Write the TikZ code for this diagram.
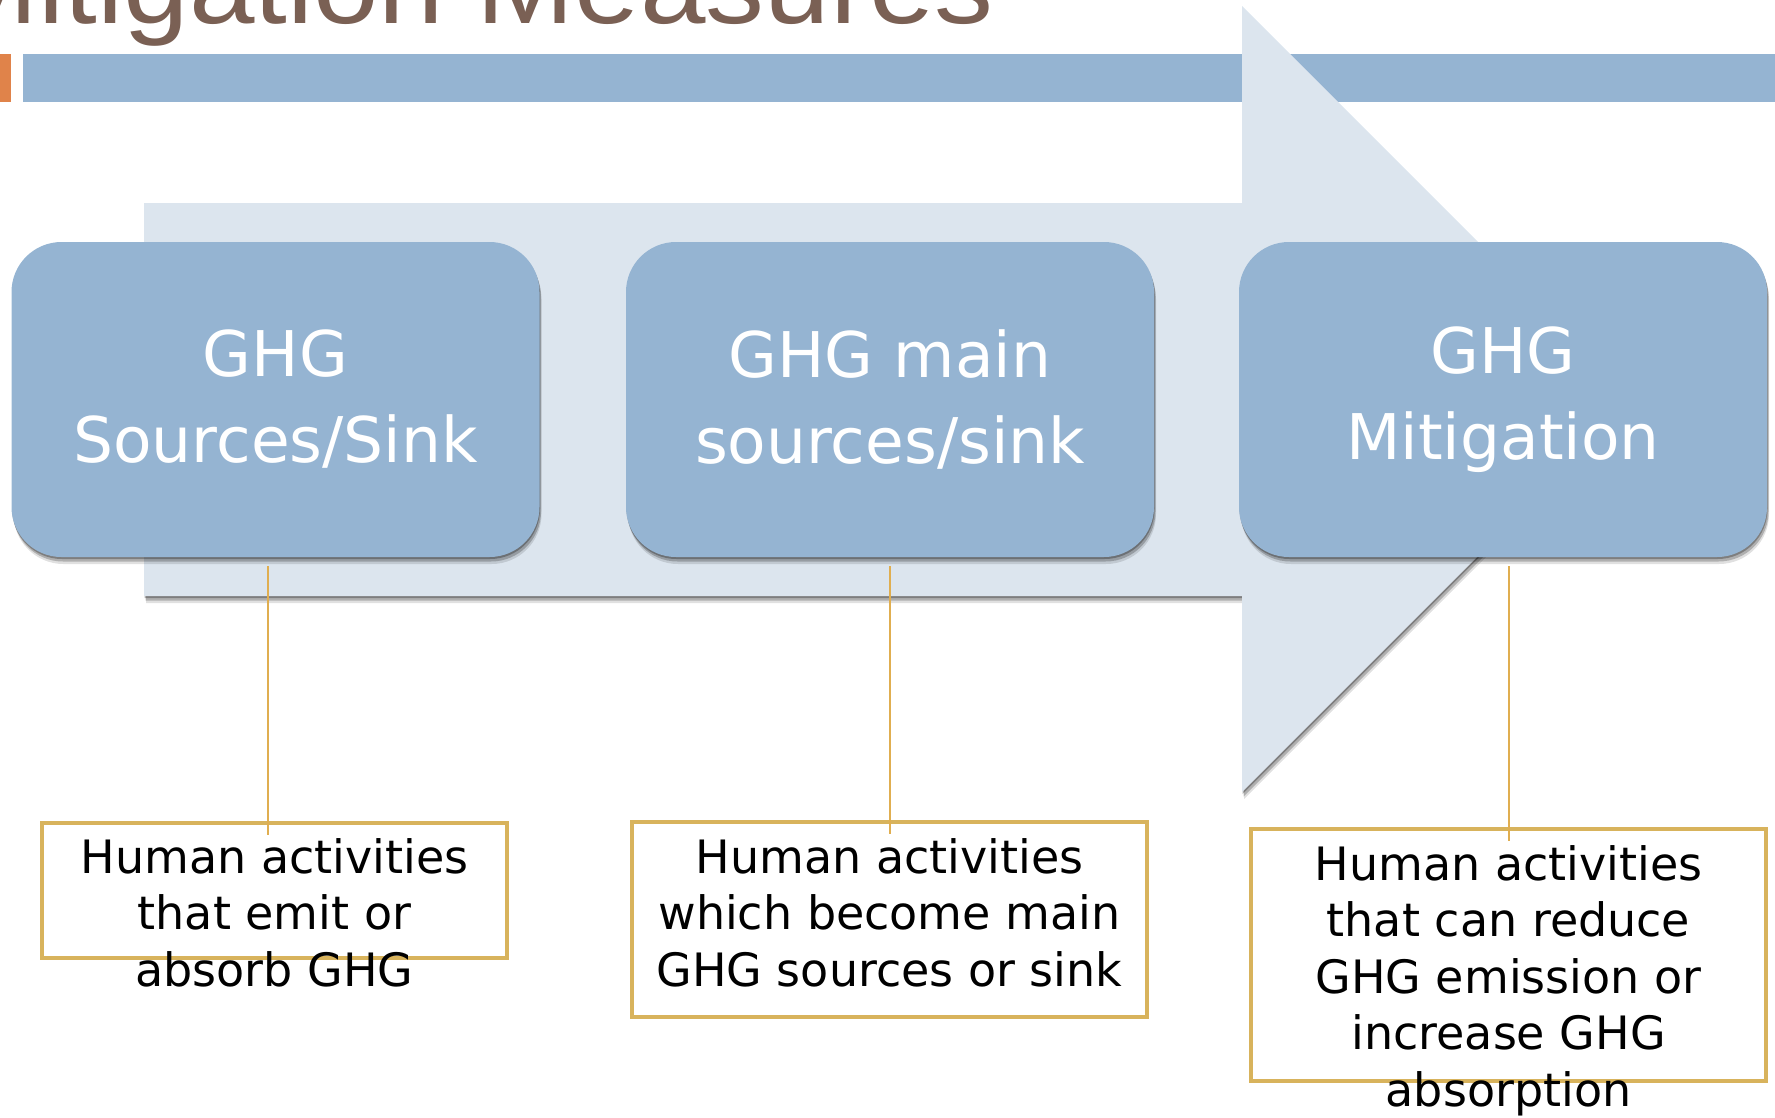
\documentclass[tikz,border=0pt]{standalone}
\usepackage{graphicx}
\usepackage{fontspec}
\setmainfont{DejaVu Sans}
\newfontfamily\titlefont{Liberation Sans}
\usetikzlibrary{shadows}
\definecolor{barblue}{RGB}{149,180,210}
\definecolor{arrowfill}{RGB}{220,229,238}
\definecolor{orangemark}{RGB}{224,131,74}
\definecolor{titlebrown}{RGB}{122,96,84}
\definecolor{goldbox}{RGB}{216,179,92}
\definecolor{goldline}{RGB}{224,174,80}
\begin{document}
\begin{tikzpicture}[x=1pt,y=-1pt,
  softshadow/.style={
    drop shadow={shadow xshift=0.5pt, shadow yshift=-2pt, opacity=0.28, fill=black},
    drop shadow={shadow xshift=1.5pt, shadow yshift=-4.5pt, opacity=0.22, fill=black},
    drop shadow={shadow xshift=2pt, shadow yshift=-7pt, opacity=0.12, fill=black}},
  gbox/.style={rounded corners=50pt, fill=barblue, minimum width=528pt, minimum height=315pt,
    inner sep=0pt, text=white, align=center, font=\fontsize{63}{86}\selectfont, softshadow},
  lbox/.style={draw=goldbox, line width=3.5pt, inner sep=0pt},
  ltext/.style={align=center, inner sep=0pt, anchor=north, font=\fontsize{46}{56.5}\selectfont},
  conn/.style={draw=goldline, line width=2pt}]
\useasboundingbox (0,0) rectangle (1775,1117);
\clip (0,0) rectangle (1775,1117);
% header bar
\fill[orangemark] (0,54) rectangle (10.5,102);
\fill[barblue] (23,54) rectangle (1775,102);
\node[anchor=base east, inner sep=0pt, text=titlebrown, font=\titlefont\fontsize{110}{130}\selectfont]
  (title) at (994,23) {\scalebox{1.07}[1]{Mitigation Measures}};
% big arrow
\fill[arrowfill, softshadow]
  (144,203) -- (1242,203) -- (1242,6) -- (1635,399) -- (1242,792) -- (1242,596) -- (144,596) -- cycle;
% main boxes
\node[gbox] (b1) at (275.5,399.5) {GHG\\Sources/Sink};
\node[gbox] (b2) at (890,399.5) {GHG main\\sources/sink};
\node[gbox] (b3) at (1503,399.5) {GHG\\Mitigation};
% label boxes
\node[lbox, minimum width=465pt, minimum height=135pt] (l1) at (274.5,890.5) {};
\node[lbox, minimum width=515pt, minimum height=195pt] (l2) at (889.5,919.5) {};
\node[lbox, minimum width=515pt, minimum height=252pt] (l3) at (1508.5,955) {};
% connectors
\draw[conn] (l1.north |- b1.south) ++(-6.5,9) -- ([xshift=-6.5pt,yshift=-14pt]l1.north);
\draw[conn] (l2.north |- b2.south) ++(0,9) -- ([yshift=-14pt]l2.north);
\draw[conn] (l3.north |- b3.south) ++(0,9) -- ([yshift=-14pt]l3.north);
% label texts
\node[ltext] (t1) at (274.5,838) {Human activities\\that emit or\\absorb GHG};
\node[ltext] (t2) at (889.5,838) {Human activities\\which become main\\GHG sources or sink};
\node[ltext] (t3) at (1508.5,845) {Human activities\\that can reduce\\GHG emission or\\increase GHG\\absorption};
\end{tikzpicture}
\end{document}
